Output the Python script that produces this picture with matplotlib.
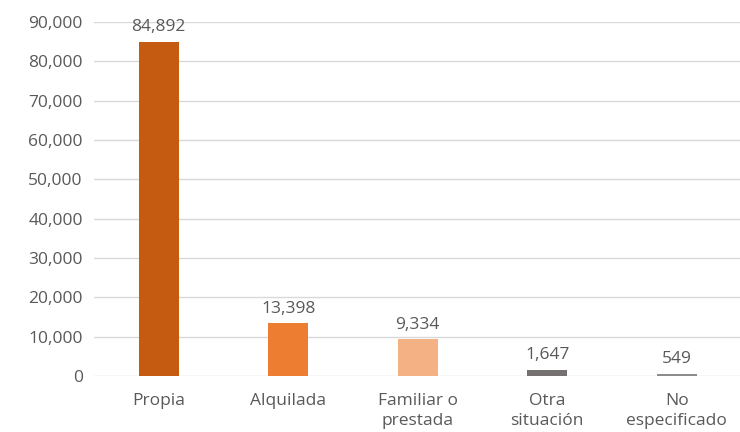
import matplotlib
matplotlib.use("Agg")
import matplotlib.pyplot as plt
from matplotlib.ticker import FuncFormatter

categories = ["Propia", "Alquilada", "Familiar o\nprestada", "Otra\nsituación", "No\nespecificado"]
values = [84892, 13398, 9334, 1647, 549]
colors = ["#C55A11", "#ED7D31", "#F4B183", "#767171", "#8C8C8C"]
yticks = [0, 10000, 20000, 30000, 40000, 50000, 60000, 70000, 80000, 90000]

plt.rcParams['font.family'] = ['Open Sans', 'DejaVu Sans']
txt = "#595959"

fig = plt.figure(figsize=(7.4, 4.32), dpi=100)
ax = fig.add_axes([0.127, 0.1296, 0.875, 0.8194])
x = list(range(len(categories)))
ax.bar(x, values, width=0.31, color=colors, zorder=3)
ax.set_xlim(-0.5, len(categories) - 0.5)
ax.set_ylim(0, 90000)
ax.set_yticks(yticks)
ax.yaxis.set_major_formatter(FuncFormatter(lambda v, p: f"{int(v):,}"))
ax.grid(axis='y', color='#D9D9D9', linewidth=1, zorder=0)
for s in ax.spines.values():
    s.set_visible(False)
ax.tick_params(axis='both', length=0, labelsize=12.5, colors=txt, pad=8)
ax.tick_params(axis='x', pad=12)
ax.set_xticks(x)
ax.set_xticklabels(categories, linespacing=1.35)
for xi, v in zip(x, values):
    ax.text(xi, v + 1700, f"{v:,}", ha='center', va='bottom', fontsize=12.5, color=txt)
fig.savefig("out.png", dpi=100)
